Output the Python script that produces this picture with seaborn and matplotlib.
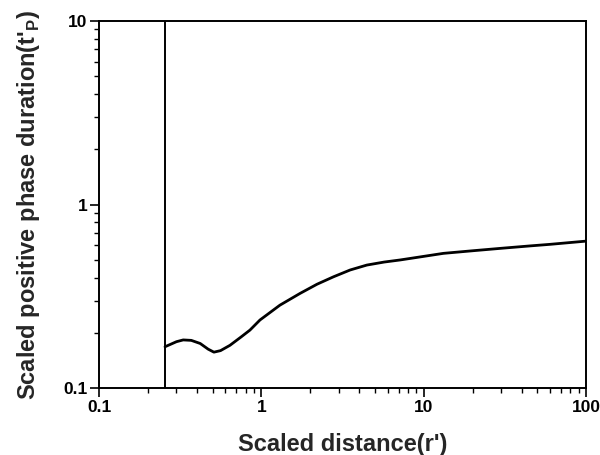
import seaborn as sns
import pandas as pd
import matplotlib
matplotlib.use("Agg")
import matplotlib.pyplot as plt
from matplotlib.ticker import LogLocator, FuncFormatter, NullFormatter

# values
scaled_distance = [0.255, 0.30, 0.33, 0.37, 0.42, 0.47, 0.51, 0.56, 0.64, 0.75, 0.85, 0.98,
                   1.3, 1.73, 2.2, 2.78, 3.52, 4.46, 5.7, 7.16, 10.0, 13.2, 20.0, 29.6, 45.0, 60.0, 100.0]
scaled_duration = [0.168, 0.179, 0.183, 0.182, 0.175, 0.163, 0.157, 0.160, 0.171, 0.190, 0.207, 0.235,
                   0.283, 0.328, 0.368, 0.404, 0.440, 0.468, 0.486, 0.499, 0.522, 0.542, 0.560, 0.577, 0.595, 0.607, 0.632]
cutoff_distance = 0.255

df = pd.DataFrame({'r': scaled_distance, 't': scaled_duration})

sns.set_style("white")
plt.rcParams['font.family'] = ['Liberation Sans', 'DejaVu Sans']
plt.rcParams['font.weight'] = 'bold'
plt.rcParams['mathtext.fontset'] = 'custom'
plt.rcParams['mathtext.rm'] = 'Liberation Sans:bold'
plt.rcParams['mathtext.bf'] = 'Liberation Sans:bold'

fig, ax = plt.subplots(figsize=(6, 4.55), dpi=100)
fig.subplots_adjust(left=0.165, right=0.977, top=0.954, bottom=0.147)

sns.lineplot(data=df, x='r', y='t', color='black', linewidth=2.0, ax=ax)
ax.axvline(cutoff_distance, color='black', linewidth=1.4)

ax.set_xscale('log')
ax.set_yscale('log')
ax.set_xlim(0.1, 100)
ax.set_ylim(0.1, 10)

fmt = FuncFormatter(lambda v, p: '%g' % v)
ax.xaxis.set_major_locator(LogLocator(base=10))
ax.yaxis.set_major_locator(LogLocator(base=10))
ax.xaxis.set_minor_locator(LogLocator(base=10, subs=range(2, 10)))
ax.yaxis.set_minor_locator(LogLocator(base=10, subs=range(2, 10)))
ax.xaxis.set_major_formatter(fmt)
ax.yaxis.set_major_formatter(fmt)
ax.xaxis.set_minor_formatter(NullFormatter())
ax.yaxis.set_minor_formatter(NullFormatter())

ax.tick_params(which='major', direction='out', length=6.5, width=1.2, labelsize=12.5, pad=2,
               bottom=True, left=True, top=False, right=False, colors='black')
ax.tick_params(which='minor', direction='out', length=3.5, width=1.0,
               bottom=True, left=True, top=False, right=False, colors='black')
for lbl in ax.get_xticklabels() + ax.get_yticklabels():
    lbl.set_fontweight('bold')

for spine in ax.spines.values():
    spine.set_color('black')
    spine.set_linewidth(1.4)

ax.set_xlabel("Scaled distance(r')", fontsize=17, fontweight='bold', labelpad=13)
ax.set_ylabel(r"Scaled positive phase duration(t'$_{\mathbf{P}}$)", fontsize=17,
              fontweight='bold', labelpad=15)

plt.savefig('out.png', dpi=100)
